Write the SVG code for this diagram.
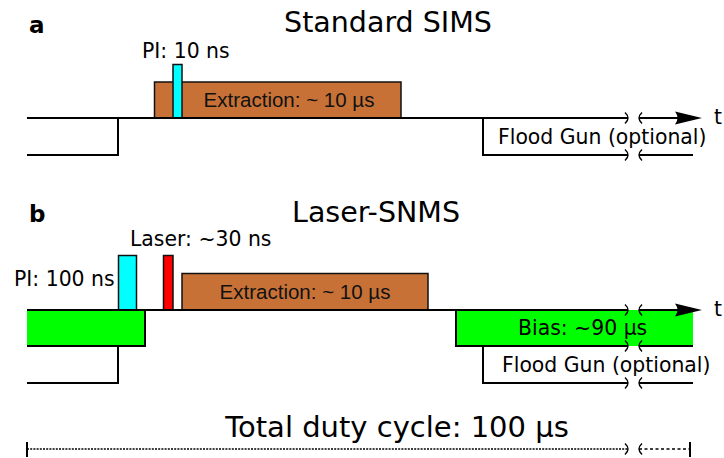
<svg xmlns="http://www.w3.org/2000/svg" width="724" height="458" viewBox="0 0 724 458">
  <style>
    .txt { font-family: "DejaVu Sans", "Liberation Sans", sans-serif; fill: #000; }
    .lbl { font-size: 20.4px; }
    .title { font-size: 28.5px; }
    .panel { font-size: 23px; font-weight: bold; }
    .ext { font-family: "Liberation Sans", Arial, sans-serif; font-size: 20.5px; fill: #111; }
    .ln { fill: none; stroke: #000; stroke-width: 2; }
    .brk { fill: none; stroke: #000; stroke-width: 1.4; }
    .box { stroke: #111; stroke-width: 1.5; }
    .extr { fill: #c87137; }
    .pi { fill: #00ffff; }
    .laser { fill: #ff0000; }
    .bias { fill: #00ff00; }
    .dots { fill: none; stroke: #000; stroke-width: 1.4; }
  </style>
  <defs>
    <!-- axis break: ")" closes the left segment, "(" opens the right one -->
    <path id="brkL" d="M-3,-5.5 Q3,0 -3,5.5"/>
    <path id="brkR" d="M3,-5.5 Q-3,0 3,5.5"/>
    <path id="arrowHead" d="M0,0 L-27,-6.5 Q-22,0 -27,6.5 Z"/>
  </defs>

  <!-- panel a: Standard SIMS -->
  <g id="panel-a">
    <text class="txt panel" x="29" y="33">a</text>
    <text class="txt title" x="388" y="32" text-anchor="middle">Standard SIMS</text>
  </g>

  <g id="extraction-a">
    <rect class="box extr" x="154.5" y="82" width="246.5" height="36"/>
    <text class="ext" x="289" y="107" text-anchor="middle">Extraction: ~ 10 µs</text>
  </g>
  <g id="pi-a">
    <rect class="box pi" x="173" y="64.5" width="9" height="53.5"/>
    <text class="txt lbl" x="142" y="58">PI: 10 ns</text>
  </g>
  <g id="floodgun-a">
    <text class="txt lbl" x="498" y="144">Flood Gun (optional)</text>
  </g>
  <g id="time-a">
    <use href="#arrowHead" x="702" y="118"/>
    <text class="txt lbl" x="714" y="124">t</text>
  </g>

  <!-- panel b: Laser-SNMS -->
  <g id="panel-b">
    <text class="txt panel" x="29" y="222">b</text>
    <text class="txt title" x="376" y="222" text-anchor="middle">Laser-SNMS</text>
  </g>

  <g id="bias-left">
    <rect class="bias" x="27" y="310" width="118" height="36"/>
    <path class="ln" d="M145,310 V346 H27"/>
  </g>
  <g id="bias-right">
    <rect class="bias" x="456" y="310" width="237" height="36"/>
    <path class="ln" d="M456,310 V346 H628 M639,346 H693"/>
    <use class="brk" href="#brkL" x="628" y="346"/>
    <use class="brk" href="#brkR" x="639" y="346"/>
    <text class="txt lbl" x="518" y="335">Bias: ~90 µs</text>
  </g>
  <g id="pi-b">
    <rect class="box pi" x="118.5" y="255.5" width="18" height="54.5"/>
    <text class="txt lbl" x="14" y="286">PI: 100 ns</text>
  </g>
  <g id="laser-b">
    <rect class="box laser" x="163.5" y="255.5" width="9.5" height="54.5"/>
    <text class="txt lbl" x="130" y="246">Laser: ~30 ns</text>
  </g>
  <g id="extraction-b">
    <rect class="box extr" x="182" y="273.5" width="246" height="36.5"/>
    <text class="ext" x="305" y="299" text-anchor="middle">Extraction: ~ 10 µs</text>
  </g>
  <g id="floodgun-b">
    <text class="txt lbl" x="502" y="372">Flood Gun (optional)</text>
  </g>
  <g id="time-b">
    <use href="#arrowHead" x="702" y="310"/>
    <text class="txt lbl" x="714" y="316">t</text>
  </g>

  <!-- duty cycle -->
  <g id="duty-cycle">
    <text class="txt" x="397" y="437" font-size="29" text-anchor="middle">Total duty cycle: 100 µs</text>
  </g>

  <!-- signal traces, breaks and the duty-cycle span -->
  <g id="connectors">
    <!-- a: time axis, pulse line, flood gun -->
    <path class="ln" d="M27,118 H628 M639,118 H680"/>
    <use class="brk" href="#brkL" x="628" y="118"/>
    <use class="brk" href="#brkR" x="639" y="118"/>
    <path class="ln" d="M27,155 H118 V118"/>
    <path class="ln" d="M483,118 V155 H628 M639,155 H693"/>
    <use class="brk" href="#brkL" x="628" y="155"/>
    <use class="brk" href="#brkR" x="639" y="155"/>

    <!-- b: time axis, pulse line, flood gun -->
    <path class="ln" d="M27,310 H628 M639,310 H680"/>
    <use class="brk" href="#brkL" x="628" y="310"/>
    <use class="brk" href="#brkR" x="639" y="310"/>
    <path class="ln" d="M27,383 H118 V346"/>
    <path class="ln" d="M483,346 V383 H628 M639,383 H693"/>
    <use class="brk" href="#brkL" x="628" y="383"/>
    <use class="brk" href="#brkR" x="639" y="383"/>

    <!-- duty cycle span -->
    <path class="ln" d="M27,442 V457 M690,442 V457" stroke-width="1.6"/>
    <path class="dots" d="M27,449 H628" stroke-dasharray="2,1.2"/>
    <path class="dots" d="M639,449 H690" stroke-dasharray="3,2.5"/>
    <use class="brk" href="#brkL" x="628" y="449"/>
    <use class="brk" href="#brkR" x="639" y="449"/>
  </g>
</svg>
